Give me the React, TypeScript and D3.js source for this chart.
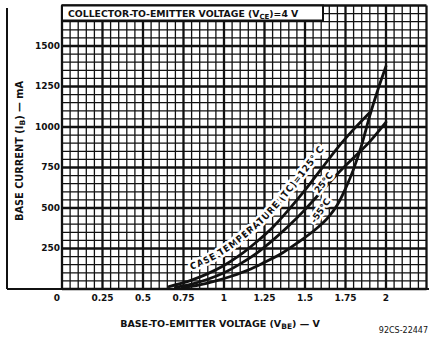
import { line, scaleLinear, curveMonotoneX, range } from "d3";

// base current (mA) vs base-to-emitter voltage (V), per case temperature
const volts125 = [0.66, 0.8, 0.9, 1.0, 1.1, 1.2, 1.3, 1.4, 1.5, 1.6, 1.7, 1.8, 1.9];
const amps125 = [15, 55, 95, 145, 210, 290, 380, 490, 610, 740, 870, 985, 1090];

const volts25 = [0.7, 0.8, 0.9, 1.0, 1.1, 1.2, 1.3, 1.4, 1.5, 1.6, 1.7, 1.8, 1.9, 2.0];
const amps25 = [10, 30, 60, 100, 155, 220, 300, 390, 490, 600, 710, 810, 910, 1030];

const voltsMinus55 = [0.74, 0.85, 0.95, 1.05, 1.15, 1.25, 1.36, 1.46, 1.56, 1.65, 1.7, 1.75, 1.8, 1.85, 1.9, 1.95, 2.0];
const ampsMinus55 = [8, 25, 50, 80, 117, 165, 222, 290, 364, 450, 520, 620, 740, 890, 1070, 1230, 1375];

const xTicks = [0, 0.25, 0.5, 0.75, 1, 1.25, 1.5, 1.75, 2];
const xTickLabels = ["0", "0.25", "0.5", "0.75", "1", "1.25", "1.5", "1.75", "2"];
const yTicks = [250, 500, 750, 1000, 1250, 1500];
const yTickLabels = ["250", "500", "750", "1000", "1250", "1500"];

type Pt = { v: number; i: number };
const zip = (vs: number[], is: number[]): Pt[] => vs.map((v, k) => ({ v, i: is[k] }));

const FONT = "'DejaVu Sans', sans-serif";

export default function App() {
  const W = 429;
  const H = 338;
  const x = scaleLinear().domain([0, 2.25]).range([62, 426.5]);
  const y = scaleLinear().domain([0, 1750]).range([289, 5.5]);

  const curve = line<Pt>()
    .x((d) => x(d.v))
    .y((d) => y(d.i))
    .curve(curveMonotoneX);

  // label path sits a little above the 125°C curve
  const labelPath = line<Pt>()
    .x((d) => x(d.v) - 6)
    .y((d) => y(d.i) - 8)
    .curve(curveMonotoneX);

  const series = [zip(volts125, amps125), zip(volts25, amps25), zip(voltsMinus55, ampsMinus55)];

  const vLines = range(0, 46).map((k) => k * 0.05);
  const hLines = range(0, 36).map((k) => k * 50);

  const halo = { paintOrder: "stroke" as const, stroke: "#fff", strokeWidth: 5, strokeLinejoin: "round" as const };

  return (
    <svg width={W} height={H} style={{ position: "fixed", left: 0, top: 0, background: "#fff" }} fontFamily={FONT}>
      {/* grid */}
      <g stroke="#111">
        {vLines.map((v, k) => (
          <line key={"v" + k} x1={x(v)} x2={x(v)} y1={y(0)} y2={y(1750)} strokeWidth={k % 5 === 0 ? 2.3 : 1.3} />
        ))}
        {hLines.map((h, k) => (
          <line key={"h" + k} x1={x(0)} x2={x(2.25)} y1={y(h)} y2={y(h)} strokeWidth={k % 5 === 0 ? 2.3 : 1.3} />
        ))}
      </g>

      {/* outer frame */}
      <line x1={7} x2={7} y1={8} y2={y(0)} stroke="#111" strokeWidth={2} />
      <line x1={7} x2={W} y1={y(0)} y2={y(0)} stroke="#111" strokeWidth={2.2} />

      {/* header box */}
      <rect x={x(0)} y={y(1750)} width={261} height={15} fill="#fff" stroke="#111" strokeWidth={2} />
      <text x={x(0) + 6} y={y(1750) + 11.5} fontSize={9.3} fontWeight="bold" fill="#111">
        COLLECTOR-TO-EMITTER VOLTAGE (V<tspan fontSize={7} dy={2}>CE</tspan>
        <tspan dy={-2}>)=4 V</tspan>
      </text>

      {/* curves */}
      {series.map((s, k) => (
        <path key={k} d={curve(s) || ""} fill="none" stroke="#111" strokeWidth={2.8} strokeLinecap="round" />
      ))}

      {/* curve labels */}
      <defs>
        <path id="lbl125" d={labelPath(series[0]) || ""} />
      </defs>
      <text fontSize={9.3} fontWeight="bold" fill="#111" letterSpacing={0.3} style={halo}>
        <textPath href="#lbl125" startOffset={30}>
          CASE TEMPERATURE (TC)=125° C
        </textPath>
      </text>
      <text
        x={324}
        y={183}
        fontSize={9}
        fontWeight="bold"
        fill="#111"
        textAnchor="middle"
        dominantBaseline="middle"
        transform="rotate(-52 324 183)"
        style={halo}
      >
        25°C
      </text>
      <text
        x={321}
        y={211}
        fontSize={9}
        fontWeight="bold"
        fill="#111"
        textAnchor="middle"
        dominantBaseline="middle"
        transform="rotate(-55 321 211)"
        style={halo}
      >
        -55°C
      </text>

      {/* x tick labels */}
      {xTicks.map((t, k) => (
        <text
          key={"xt" + k}
          x={x(t) - (t === 0 ? 5 : 0)}
          y={301}
          fontSize={9}
          fontWeight="bold"
          textAnchor="middle"
          fill="#111"
        >
          {xTickLabels[k]}
        </text>
      ))}

      {/* y tick labels */}
      {yTicks.map((t, k) => (
        <text
          key={"yt" + k}
          x={60}
          y={y(t)}
          fontSize={9}
          fontWeight="bold"
          textAnchor="end"
          dominantBaseline="middle"
          fill="#111"
        >
          {yTickLabels[k]}
        </text>
      ))}

      {/* axis titles */}
      <text x={220} y={327} fontSize={9.5} fontWeight="bold" textAnchor="middle" fill="#111">
        BASE-TO-EMITTER VOLTAGE (V<tspan fontSize={7.5} dy={2}>BE</tspan>
        <tspan dy={-2}>) — V</tspan>
      </text>
      <text
        x={23}
        y={151}
        fontSize={9.8}
        fontWeight="bold"
        textAnchor="middle"
        fill="#111"
        transform="rotate(-90 23 151)"
      >
        BASE CURRENT (I<tspan fontSize={7.5} dy={2}>B</tspan>
        <tspan dy={-2}>) — mA</tspan>
      </text>
      <text x={428} y={333} fontSize={8} textAnchor="end" fill="#111">
        92CS-22447
      </text>
    </svg>
  );
}
